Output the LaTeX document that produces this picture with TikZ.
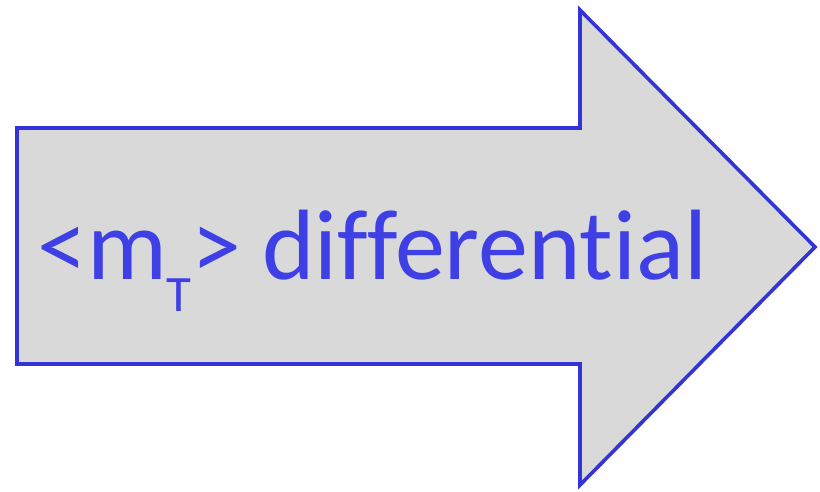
\documentclass[tikz,border=0pt]{standalone}
\usepackage{fontspec}
\setmainfont[Ligatures=NoCommon]{Carlito}
\definecolor{edgeblue}{HTML}{3333D6}
\definecolor{textblue}{HTML}{3F3FE6}
\definecolor{arrowfill}{HTML}{D9D9D9}
\tikzset{
  bigarrow/.style={draw=edgeblue, fill=arrowfill, line width=3.6pt, line join=miter},
  label/.style={text=textblue, inner sep=0pt, font=\fontsize{100}{110}\selectfont}
}
\begin{document}
\begin{tikzpicture}[x=1pt,y=-1pt]
\useasboundingbox (0,0) rectangle (820,491);
% block arrow pointing right
\draw[bigarrow] (17,128) -- (580,128) -- (580,10) -- (815,247) -- (580,485)
  -- (580,364) -- (17,364) -- cycle;
\node[label, anchor=base west] (txt) at (37,279)
  {<m\raisebox{-32pt}{\fontsize{51}{55}\selectfont T}>\hspace{-2pt} differential};
\end{tikzpicture}
\end{document}
